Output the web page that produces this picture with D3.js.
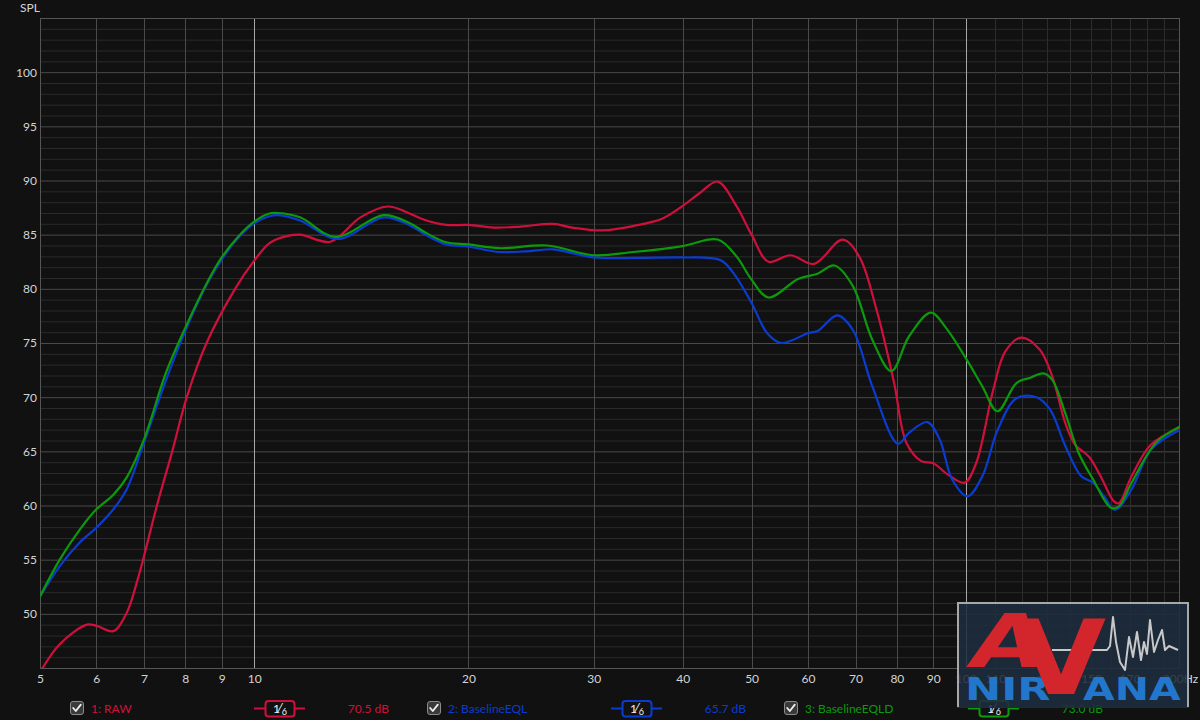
<!DOCTYPE html>
<html><head><meta charset="utf-8">
<script src="https://cdn.jsdelivr.net/npm/d3@7"></script>
<style>
html,body{margin:0;padding:0;background:#111111;}
svg{display:block;}
</style>
</head><body>
<svg id="chart" width="1200" height="720"></svg>
<script>
// ---------- DATA ----------
const rawFreq = [5.0,5.33,5.82,6.0,6.34,6.62,6.86,6.98,7.3,7.67,8.04,8.57,9.4,10.0,10.5,11.0,11.6,12.8,14.1,15.4,16.35,17.3,18.6,20,21.7,23.7,26.3,28.0,30.9,34.1,37.5,40,42.2,44.8,47.6,50,52.8,56.7,61.2,67.1,70.8,74.9,79.3,82.5,86.6,90,94.6,99.6,103.4,109.3,113.6,119.6,127,132.3,138,142.5,149,154.7,161.4,164,171,182,200];
const rawSpl  = [44.6,47.2,49.0,48.9,48.4,50.1,53.2,55.0,60.0,65.0,70.0,75.0,80.0,82.6,84.2,84.8,85.0,84.35,86.6,87.6,87.1,86.4,85.9,85.9,85.65,85.75,86.0,85.65,85.4,85.8,86.5,87.65,88.8,89.9,87.65,85.0,82.5,83.1,82.3,84.55,83.0,78.1,71.3,65.8,64.1,63.9,62.8,62.1,63.9,70.7,74.2,75.5,74.4,71.9,67.6,65.6,64.5,62.7,60.4,60.2,62.7,65.6,67.2];

const eqlFreq = [5.0,5.33,5.69,6.0,6.34,6.62,7.0,7.52,8.0,8.56,9.0,9.55,10.0,10.5,10.8,11.6,13.1,15.2,16.5,17.4,18.6,20,22.1,24,26.3,28,30,34.1,40,45.2,47.1,50,52.6,55.0,60,61.9,66.0,69.4,73.9,80.3,83.2,88.3,91.9,95.7,100.6,105.5,110.9,117.8,125.7,131.4,138,145.3,151,156.4,162,171,182,200];
const eqlSpl  = [51.6,54.4,56.6,57.95,59.65,61.5,65.8,71.6,76.1,80.3,82.7,84.9,86.05,86.7,86.8,86.3,84.6,86.6,85.9,85.0,84.1,83.9,83.4,83.45,83.65,83.3,82.9,82.85,82.9,82.65,81.5,78.7,75.9,75.0,75.9,76.1,77.55,76.2,71.0,65.7,66.7,67.7,66.1,62.4,60.85,62.7,67.0,69.9,70.0,68.85,65.5,62.7,62.1,60.85,59.6,61.5,65.15,67.0];

const eqldFreq = [5.0,5.33,5.69,6.0,6.34,6.62,7.0,7.52,8.0,8.56,9.0,9.55,10.0,10.5,10.8,11.6,13.0,15.2,16.5,17.4,18.6,20,22.1,25.8,30,34.1,40,44.8,47.6,50,52.8,58.1,61.9,65.4,69.4,73.9,78.6,83.2,89.3,93.8,100,105.5,110.8,117.8,123.3,128.5,132.3,138,144.2,151,159.8,164,171,185,200];
const eqldSpl  = [51.6,55.0,57.8,59.65,61.0,62.6,66.1,72.3,76.4,80.4,82.9,85.0,86.2,86.95,87.0,86.6,84.8,86.8,86.1,85.2,84.3,84.1,83.75,84.0,83.1,83.4,83.95,84.55,83.0,80.85,79.2,80.9,81.4,82.15,80.25,75.3,72.4,75.6,77.8,76.4,73.6,71.0,68.7,71.3,71.8,72.2,71.6,68.5,64.8,62.4,59.8,59.9,62.1,65.8,67.3];

const seriesNames  = ["1: RAW", "2: BaselineEQL", "3: BaselineEQLD"];
const seriesLevels = ["70.5 dB", "65.7 dB", "73.0 dB"];
const seriesColors = ["#d0103c", "#0a3cd2", "#0c9a0c"];

const yTicks = [50,55,60,65,70,75,80,85,90,95,100];
const xTicks = [5,6,7,8,9,10,20,30,40,50,60,70,80,90,100,110,130,150,170,200];
const xGridMid = [6,7,8,9,20,30,40,50,60,70,80,90];
const xGridBright = [10,100];
const xGridDim = [110,120,130,140,150,160,170,180,190];

// ---------- SETUP ----------
const svg = d3.select("#chart");
const W = 1200, H = 720;
const L = 40, R = 1180, T = 18, B = 668;
const x = d3.scaleLog().domain([5,200]).range([L,R]);
const y = d3.scaleLinear().domain([45,105]).range([B,T]);
const FONT = "Lato, 'Noto Sans', sans-serif";

svg.append("rect").attr("width",W).attr("height",H).attr("fill","#111111");

// grid
const grid = svg.append("g");
grid.selectAll("line.hmin").data(d3.range(46,105)).join("line")
  .attr("x1",L).attr("x2",R).attr("y1",d=>y(d)+0.5).attr("y2",d=>y(d)+0.5)
  .attr("stroke", d => d%5===0 ? "#4a4a4a" : "#2a2a2a").attr("stroke-width",1);
grid.selectAll("line.vdim").data(xGridDim).join("line")
  .attr("x1",d=>Math.round(x(d))+0.5).attr("x2",d=>Math.round(x(d))+0.5).attr("y1",T).attr("y2",B)
  .attr("stroke","#2c2c2c");
grid.selectAll("line.vmid").data(xGridMid).join("line")
  .attr("x1",d=>Math.round(x(d))+0.5).attr("x2",d=>Math.round(x(d))+0.5).attr("y1",T).attr("y2",B)
  .attr("stroke","#4a4a4a");
grid.selectAll("line.vbr").data(xGridBright).join("line")
  .attr("x1",d=>Math.round(x(d))+0.5).attr("x2",d=>Math.round(x(d))+0.5).attr("y1",T).attr("y2",B)
  .attr("stroke","#a8a8a8");
// frame
svg.append("rect").attr("x",L+0.5).attr("y",T+0.5).attr("width",R-L-1).attr("height",B-T)
  .attr("fill","none").attr("stroke","#555555");

// axes
const yAxis = svg.append("g").attr("transform",`translate(${L},0)`)
  .call(d3.axisLeft(y).tickValues(yTicks).tickSize(0).tickPadding(3).tickFormat(d3.format("d")));
yAxis.select(".domain").remove();
yAxis.selectAll("text").attr("fill","#d4d4d4").style("font-family",FONT).style("font-size","12px");

const xAxis = svg.append("g").attr("transform",`translate(0,${B})`)
  .call(d3.axisBottom(x).tickValues(xTicks).tickSize(0).tickPadding(6)
    .tickFormat(d => d===200 ? "200Hz" : String(d)));
xAxis.select(".domain").remove();
xAxis.selectAll("text").attr("fill","#d4d4d4").style("font-family",FONT).style("font-size","12px");

svg.append("text").attr("x",20).attr("y",12).text("SPL")
  .attr("fill","#d4d4d4").style("font-family",FONT).style("font-size","12px");

// curves
svg.append("clipPath").attr("id","plotclip").append("rect")
  .attr("x",L).attr("y",T).attr("width",R-L).attr("height",B-T);
const line = d3.line().x(d=>x(d[0])).y(d=>y(d[1])).curve(d3.curveCatmullRom.alpha(0.5));
const series = [d3.zip(rawFreq,rawSpl), d3.zip(eqlFreq,eqlSpl), d3.zip(eqldFreq,eqldSpl)];
const curves = svg.append("g").attr("clip-path","url(#plotclip)");
series.forEach((s,i)=>{
  curves.append("path").attr("d",line(s)).attr("fill","none")
    .attr("stroke",seriesColors[i]).attr("stroke-width",2.2).attr("stroke-linejoin","round");
});

// legend
const legendX = [70, 427, 784];
const legY = 701;
seriesNames.forEach((name,i)=>{
  const g = svg.append("g").attr("transform",`translate(${legendX[i]},${legY})`);
  g.append("rect").attr("x",0.5).attr("y",0.5).attr("width",13).attr("height",13).attr("rx",2.5)
    .attr("fill","#3a3a3a").attr("stroke","#8a8a8a");
  g.append("path").attr("d","M3.2,7 L5.8,10 L10.8,3.6").attr("fill","none")
    .attr("stroke","#f0f0f0").attr("stroke-width",1.8).attr("stroke-linecap","round").attr("stroke-linejoin","round");
  g.append("text").attr("x",21).attr("y",12).text(name)
    .attr("fill",seriesColors[i]).style("font-family",FONT).style("font-size","12px");
  g.append("line").attr("x1",184).attr("x2",235).attr("y1",7.5).attr("y2",7.5)
    .attr("stroke",seriesColors[i]).attr("stroke-width",2);
  g.append("rect").attr("x",195.5).attr("y",0).attr("width",29).attr("height",15.5).attr("rx",3)
    .attr("fill","#111111").attr("stroke",seriesColors[i]).attr("stroke-width",2);
  const ft = g.append("text").attr("x",203).attr("y",12).attr("fill","#f0f0f0")
    .style("font-family",FONT);
  ft.append("tspan").text("1").style("font-size","12px");
  ft.append("tspan").text("\u2044").style("font-size","13px").attr("dx",-1);
  ft.append("tspan").text("6").style("font-size","9px").attr("dy",2).attr("dx",1);
  g.append("text").attr("x",319).attr("y",12).attr("text-anchor","end").text(seriesLevels[i])
    .attr("fill",seriesColors[i]).style("font-family",FONT).style("font-size","12px");
});

// logo overlay (decorative watermark)
const logo = svg.append("g").attr("transform","translate(957,602)");
logo.append("rect").attr("x",0).attr("y",0).attr("width",232).attr("height",106)
  .attr("fill","#1c2c3d").attr("fill-opacity",0.88);
logo.append("path").attr("d","M1,106 L1,1 L231,1 L231,106").attr("fill","none")
  .attr("stroke","#a8a8a8").attr("stroke-width",2);
logo.append("line").attr("x1",0).attr("x2",232).attr("y1",105.5).attr("y2",105.5).attr("stroke","#2a2a2a");
const wave = [[95,48],[150,48],[153,44],[156,15],[159,40],[163,60],[168,68],[172,35],[176,55],[180,30],[184,58],[187,40],[190,52],[193,18],[197,50],[201,38],[205,28],[208,48],[212,44],[221,48]];
logo.append("path").attr("d", d3.line().curve(d3.curveLinear)(wave)).attr("fill","none")
  .attr("stroke","#c8c8c8").attr("stroke-width",2).attr("stroke-linejoin","round");
const LOGOFONT = "'DejaVu Sans', sans-serif";
logo.append("text").attr("transform","translate(8,98) scale(1.35,1)")
  .text("NIR").attr("fill","#2277cc").style("font-family",LOGOFONT).style("font-weight","bold").style("font-size","32px");
logo.append("text").attr("transform","translate(126,98) scale(1.28,1)")
  .text("ANA").attr("fill","#2277cc").style("font-family",LOGOFONT).style("font-weight","bold").style("font-size","32px");
logo.append("text").attr("transform","translate(46,65) scale(1.3,1) skewX(-10)").attr("text-anchor","middle")
  .text("A").attr("fill","#d3262c").style("font-family",LOGOFONT).style("font-weight","bold").style("font-size","74px");
logo.append("text").attr("transform","translate(104,92) scale(1.12,1)").attr("text-anchor","middle")
  .text("V").attr("fill","#d3262c").style("font-family",LOGOFONT).style("font-weight","bold").style("font-size","104px");
</script>
</body></html>
